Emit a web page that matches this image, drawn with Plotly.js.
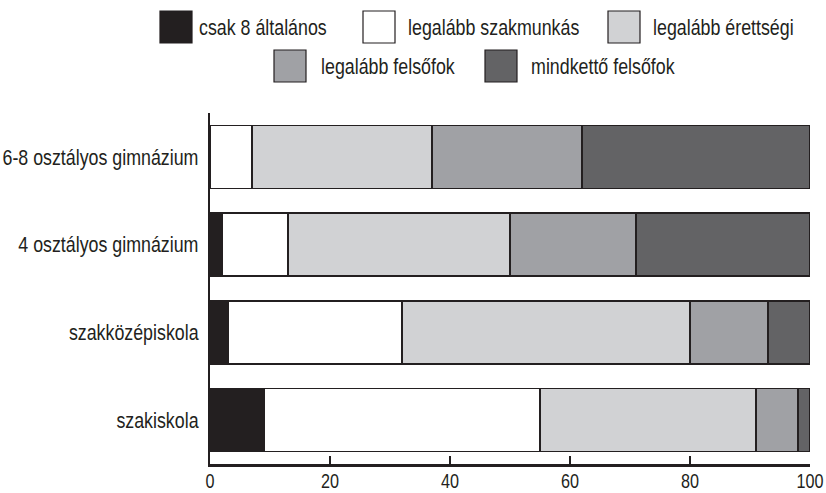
<!DOCTYPE html>
<html>
<head>
<meta charset="utf-8">
<script src="https://cdn.plot.ly/plotly-3.0.1.min.js"></script>
<style>html,body{margin:0;padding:0;background:#fff;}#chart{width:826px;height:493px;}</style>
</head>
<body>
<div id="chart"></div>
<script>
const categories = ['szakiskola', 'szakközépiskola', '4 osztályos gimnázium', '6-8 osztályos gimnázium'];
const seriesNames = ['csak 8 általános', 'legalább szakmunkás', 'legalább érettségi', 'legalább felsőfok', 'mindkettő felsőfok'];
const csak8 = [9, 3, 2, 0];
const szakmunkas = [46, 29, 11, 7];
const erettsegi = [36, 48, 37, 30];
const felsofok = [7, 13, 21, 25];
const mindketto = [2, 7, 29, 38];
const xTicks = [0, 20, 40, 60, 80, 100];

const seriesValues = [csak8, szakmunkas, erettsegi, felsofok, mindketto];
const colors = ['#231f20', '#ffffff', '#d1d2d4', '#a0a1a5', '#636365'];
const edge = '#231f20';
const FONT = '"Liberation Sans", Arial, sans-serif';
const SQUEEZE = 0.81; // condensed look of the reference typeface

const traces = seriesNames.map((name, i) => ({
  type: 'bar',
  orientation: 'h',
  name: name,
  y: categories,
  x: seriesValues[i],
  marker: {color: colors[i], line: {color: edge, width: 1.5}},
  showlegend: false,
  hoverinfo: 'x+y+name'
}));

// custom legend (large swatches) in paper coords
const L = 210, R = 810, T = 113, B = 464;
const px = x => (x - L) / (R - L);
const py = y => (B - y) / (B - T);
const legendItems = [
  {box: 160, text: 197, cy: 27},
  {box: 363, text: 406, cy: 27},
  {box: 608, text: 651, cy: 27},
  {box: 274, text: 319, cy: 66},
  {box: 485, text: 529, cy: 66}
];
const sw = 32;
const shapes = legendItems.map((it, i) => ({
  type: 'rect', xref: 'paper', yref: 'paper',
  x0: px(it.box), x1: px(it.box + sw),
  y0: py(it.cy + sw / 2), y1: py(it.cy - sw / 2),
  fillcolor: colors[i], line: {color: edge, width: 1.2}
}));
const annotations = legendItems.map((it, i) => ({
  xref: 'paper', yref: 'paper', x: px(it.text), y: py(it.cy),
  xanchor: 'left', yanchor: 'middle', showarrow: false,
  text: seriesNames[i], font: {family: FONT, size: 22, color: '#231f20'}
}));

const layout = {
  width: 826, height: 493,
  margin: {l: L, r: 826 - R, t: T, b: 493 - B},
  paper_bgcolor: '#ffffff', plot_bgcolor: '#ffffff',
  barmode: 'stack',
  bargap: 0.28,
  showlegend: false,
  font: {family: FONT, size: 22, color: '#231f20'},
  xaxis: {
    range: [0, 100], tickvals: xTicks, ticktext: xTicks.map(String),
    showgrid: false, zeroline: false, showline: true, linecolor: edge, linewidth: 2.5,
    ticks: 'inside', ticklen: 8, tickwidth: 2.5, tickcolor: edge,
    ticklabeloverflow: 'allow', ticklabelstandoff: -2,
    tickfont: {family: FONT, size: 20, color: '#231f20'}, fixedrange: true
  },
  yaxis: {
    type: 'category', categoryorder: 'array', categoryarray: categories,
    range: [-0.5, 3.5],
    showgrid: false, zeroline: false, showline: true, linecolor: edge, linewidth: 2.2,
    ticks: '', ticklabelstandoff: 5,
    tickfont: {family: FONT, size: 22, color: '#231f20'}, fixedrange: true
  },
  shapes: shapes,
  annotations: annotations
};

function squeeze(gd) {
  gd.querySelectorAll('svg text').forEach(t => {
    let mode = null;
    if (t.closest('.ytick')) mode = 'end';
    else if (t.closest('.xtick')) mode = 'middle';
    else if (t.closest('.annotation')) mode = 'start';
    if (!mode) return;
    const bb = t.getBBox();
    const ox = mode === 'end' ? bb.x + bb.width : mode === 'middle' ? bb.x + bb.width / 2 : bb.x;
    const prev = t.getAttribute('transform') || '';
    t.setAttribute('transform', prev + ' translate(' + ox + ',0) scale(' + SQUEEZE + ',1) translate(' + (-ox) + ',0)');
  });
}

Plotly.newPlot('chart', traces, layout, {displayModeBar: false, staticPlot: true}).then(squeeze);
</script>
</body>
</html>
